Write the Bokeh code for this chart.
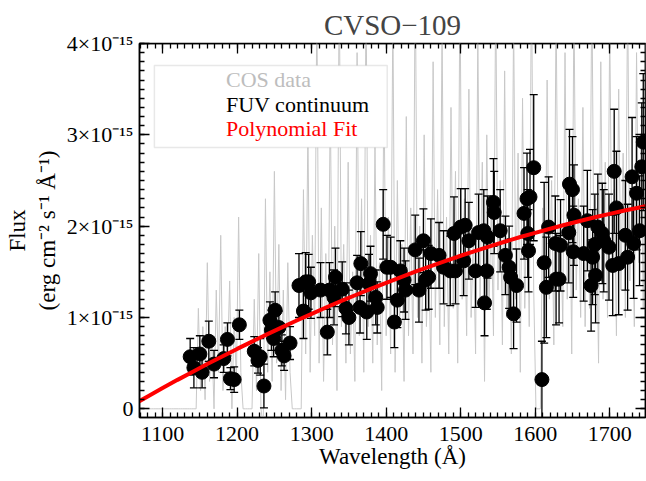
from bokeh.plotting import figure
from bokeh.models import Range1d, FixedTicker, LinearAxis, Legend, LegendItem, BoxAnnotation
from bokeh.embed import file_html
from bokeh.resources import INLINE

FONT = "Liberation Serif"

# ---------------- data (flux in units of 1e-15 erg cm^-2 s^-1 A^-1) ----------------
cos_start = 1070.0
cos_step = 3.0
cos_flux = [
    0.0, 0.0, 0.0, 0.0, 0.0, 0.0, 0.0, 0.0, 0.0, 0.0, 0.0, 0.0, 0.0,
    0.0, 0.0, 0.0, 0.0, 0.0, 0.0, 0.0, 0.0, 0.0, 0.0, 0.0, 0.0, 0.0,
    1.1, 0.2, 0.9, 0.1, 1.6, 0.3, 0.8, 0.0, 1.3, 0.4, 1.9, 0.2, 0.9, 0.5, 1.4, 0.0, 1.0, 0.3, 2.1, 0.4,
    0.0, 0.0, 0.0, 0.0, 0.0,
    1.2, 0.2, 1.7, 0.0, -0.2, 2.3, 0.4, 1.5, 0.3, 2.6, 0.5, 1.8, 0.2, 1.3, 0.1, 1.6, 0.4,
    0.0, 0.0, 0.0, 0.0, 0.0,
    2.4, 0.6, 3.1, 0.4, 1.9, 0.8, 4.5, 0.5, 2.2, 0.3, 1.7, 0.6, 3.4, 0.7, 2.0, 0.2, 4.8, 0.9,
    1.8, 0.5, 2.7, 0.6, 1.5, 0.3, 3.9, 0.8, 2.3, 0.4, 4.6, 0.9, 1.9, 0.5, 2.9, 0.7, 1.6, 0.2,
    3.6, 0.8, 2.1, 0.6, 4.4, 0.4, 2.5, 0.9, 1.8, 0.3, 3.2, 0.8, 2.2, 0.6, 4.9, 1.0, 2.0, 0.5,
    3.0, 0.9, 1.7, 0.4, 3.8, 1.0, 2.4, 0.7, 4.2, 0.9, 2.1, 0.6, 3.3, 1.1, 2.6, 0.5, 4.7, 1.2,
    2.3, 0.8, 3.5, 1.0, 1.9, 0.6, 4.1, 1.2, 2.7, 0.3, 3.0, 1.1, 2.2, 0.8, 4.6, 1.3, 2.5, 0.7,
    3.7, 1.0, 2.0, 0.6, 4.3, 1.2, 2.8, 0.4, 3.4, 1.1, 2.4, 0.9, 4.8, 1.3,
    0.0, 0.0, 0.0,
    2.2, 0.8, 3.6, 1.2, 2.5, 0.7, 4.4, 1.4, 2.1, 0.9, 3.9, 1.2, 2.9, 0.6, 4.5, 1.3, 2.3, 1.0,
    3.3, 0.9, 2.6, 1.1, 4.7, 1.4, 2.2, 0.5, 3.8, 1.2, 2.7, 1.0, 4.2, 1.5, 2.4, 0.8, 3.5, 1.3,
    2.8, 1.0, 4.6, 1.4, 2.3, 0.9, 3.9, 1.6, 2.9, 1.1, 4.3, 1.5,
]
cos_wave = [cos_start + cos_step * i for i in range(len(cos_flux))]

fuv_wave = [
    1137, 1142, 1150, 1153, 1162, 1169, 1182, 1187, 1191, 1196, 1203,
    1223, 1228, 1231, 1236, 1244, 1246, 1249, 1251, 1256, 1260, 1263, 1271,
    1283, 1289, 1292, 1296, 1299, 1312, 1321, 1324, 1330, 1332, 1341, 1346, 1350,
    1361, 1365, 1366, 1374, 1377, 1379, 1386, 1388, 1396, 1401, 1406, 1411, 1415,
    1419, 1424, 1426, 1439, 1444, 1450, 1453, 1457, 1460, 1471, 1477, 1486, 1491,
    1493, 1500, 1504, 1506, 1511, 1520, 1524, 1531, 1532, 1535, 1536, 1544, 1545,
    1553, 1560, 1565, 1567, 1571, 1575, 1585, 1589, 1590, 1591, 1593, 1598,
    1609, 1612, 1615, 1618, 1627, 1628, 1632, 1634, 1645, 1646, 1650, 1651, 1652,
    1665, 1670, 1675, 1677, 1680, 1681, 1684, 1690, 1692, 1699, 1704, 1706, 1709,
    1712, 1721, 1724, 1730, 1732, 1736, 1740, 1743, 1745,
]
fuv_flux = [
    0.57, 0.45, 0.60, 0.40, 0.74, 0.49, 0.55, 0.76, 0.33, 0.32, 0.92,
    0.63, 0.53, 0.57, 0.25, 0.97, 0.86, 0.77, 1.08, 0.89, 0.64, 0.58, 0.72,
    1.35, 1.07, 1.39, 1.39, 1.27, 1.30, 0.84, 1.30, 1.22, 1.44, 1.31, 1.10, 1.00,
    1.38, 1.11, 1.59, 1.06, 1.37, 1.48, 1.22, 1.11, 2.02, 1.55, 1.55, 0.95, 1.19,
    1.51, 1.41, 1.30, 1.74, 1.30, 1.84, 1.41, 1.44, 1.70, 1.68, 1.55, 1.51, 1.92,
    1.51, 1.99, 1.62, 2.01, 1.84, 1.51, 1.93, 1.95, 1.16, 1.51, 1.88, 2.26, 2.15,
    1.95, 1.68, 1.55, 1.44, 1.04, 1.35, 2.14, 2.30, 1.92, 1.73, 2.32, 2.64,
    0.32, 1.60, 1.33, 1.99, 1.81, 1.42, 1.42, 1.79, 1.93, 2.46, 2.40, 1.72, 2.12,
    1.70, 2.06, 1.35, 1.66, 1.80, 1.46, 1.99, 1.92, 1.84, 1.77, 1.57, 2.60, 2.20,
    1.59, 1.90, 1.66, 2.54, 1.81, 2.36, 1.95, 2.65, 2.92,
]
fuv_err = [
    0.20, 0.22, 0.20, 0.17, 0.22, 0.15, 0.15, 0.18, 0.12, 0.14, 0.16,
    0.16, 0.14, 0.20, 0.24, 0.20, 0.22, 0.20, 0.20, 0.18, 0.17, 0.16, 0.18,
    0.35, 0.30, 0.32, 0.30, 0.28, 0.30, 0.25, 0.30, 0.30, 0.32, 0.30, 0.28, 0.30,
    0.30, 0.28, 0.35, 0.30, 0.32, 0.30, 0.30, 0.28, 0.38, 0.35, 0.33, 0.28, 0.30,
    0.33, 0.35, 0.32, 0.38, 0.35, 0.35, 0.33, 0.35, 0.38, 0.36, 0.40, 0.38, 0.40,
    0.36, 0.42, 0.38, 0.40, 0.42, 0.40, 0.42, 0.45, 0.36, 0.42, 0.45, 0.48, 0.45,
    0.45, 0.43, 0.45, 0.42, 0.38, 0.40, 0.50, 0.50, 0.48, 0.45, 0.52, 0.80,
    0.42, 0.88, 0.55, 0.55, 0.52, 0.50, 0.48, 0.50, 0.55, 0.60, 0.58, 0.50, 0.55,
    0.52, 0.55, 0.50, 0.52, 0.55, 0.52, 0.58, 0.55, 0.56, 0.58, 0.55, 0.68, 0.62,
    0.56, 0.60, 0.58, 0.65, 0.60, 0.62, 0.60, 0.70, 0.75,
]

fit_wave = [1060, 1080, 1100, 1120, 1140, 1160, 1180, 1200, 1220, 1240, 1260, 1280,
            1300, 1320, 1340, 1360, 1380, 1400, 1420, 1440, 1460, 1480, 1500, 1520,
            1540, 1560, 1580, 1600, 1620, 1640, 1660, 1680, 1700, 1720, 1740, 1760]
fit_flux = [0.043, 0.136, 0.227, 0.317, 0.404, 0.490, 0.573, 0.656, 0.736, 0.815, 0.892, 0.967,
            1.040, 1.112, 1.181, 1.249, 1.316, 1.380, 1.443, 1.504, 1.563, 1.620, 1.676, 1.730,
            1.782, 1.832, 1.881, 1.927, 1.972, 2.016, 2.057, 2.097, 2.135, 2.171, 2.205, 2.238]

x_ticks = [1100, 1200, 1300, 1400, 1500, 1600, 1700]
x_tick_labels = ["1100", "1200", "1300", "1400", "1500", "1600", "1700"]
y_ticks = [0, 1, 2, 3, 4]
y_tick_labels = ["0", "1×10⁻¹⁵", "2×10⁻¹⁵", "3×10⁻¹⁵", "4×10⁻¹⁵"]

X_MIN, X_MAX = 1069, 1748
Y_MIN, Y_MAX = -0.095, 4.0

# ---------------- figure ----------------
p = figure(width=646, height=481, output_backend="svg", toolbar_location=None,
           x_range=Range1d(X_MIN, X_MAX), y_range=Range1d(Y_MIN, Y_MAX),
           title="CVSO−109",
           x_axis_label="Wavelength (Å)",
           y_axis_label="Flux\n(erg cm⁻² s⁻¹ Å⁻¹)",
           min_border_left=139, min_border_right=1, min_border_top=43, min_border_bottom=64)
p.xgrid.visible = False
p.ygrid.visible = False
p.outline_line_color = "black"
p.outline_line_width = 1.5
p.background_fill_color = "white"
p.border_fill_color = "white"

p.title.align = "center"
p.title.text_font = FONT
p.title.text_font_size = "29px"
p.title.text_font_style = "normal"
p.title.standoff = 5

x_ticker = FixedTicker(ticks=x_ticks, minor_ticks=list(range(1070, 1750, 10)))
y_ticker = FixedTicker(ticks=y_ticks, minor_ticks=[i / 10 for i in range(0, 41)])


def style(ax):
    ax.axis_line_width = 1.5
    ax.axis_line_color = "black"
    ax.major_tick_in = 10
    ax.major_tick_out = 0
    ax.minor_tick_in = 5
    ax.minor_tick_out = 0
    ax.major_tick_line_width = 1.3
    ax.minor_tick_line_width = 1.3
    ax.major_tick_line_color = "black"
    ax.minor_tick_line_color = "black"
    ax.major_label_text_font = FONT
    ax.major_label_text_font_size = "22px"
    ax.major_label_text_color = "black"
    ax.axis_label_text_font = FONT
    ax.axis_label_text_font_size = "23px"
    ax.axis_label_text_font_style = "normal"
    ax.axis_label_text_color = "black"


xa = p.xaxis[0]
ya = p.yaxis[0]
xa.ticker = x_ticker
ya.ticker = y_ticker
style(xa)
style(ya)
xa.major_label_overrides = dict(zip(x_ticks, x_tick_labels))
ya.major_label_overrides = dict(zip(y_ticks, y_tick_labels))
xa.major_label_standoff = 9
xa.axis_label_standoff = 0
ya.major_label_standoff = 6
ya.axis_label_standoff = 4

top = LinearAxis(ticker=x_ticker, fixed_location=Y_MAX)
right = LinearAxis(ticker=y_ticker, fixed_location=X_MAX)
for ax in (top, right):
    style(ax)
    ax.major_label_text_font_size = "0px"
    ax.major_label_standoff = 0
top.major_label_overrides = {t: "" for t in x_ticks}
right.major_label_overrides = {t: "" for t in y_ticks}
p.add_layout(top, "above")
p.add_layout(right, "right")

# ---------------- glyphs ----------------
p.line(cos_wave, cos_flux, color="#c8c8c8", line_width=1)

low = [f - e for f, e in zip(fuv_flux, fuv_err)]
high = [f + e for f, e in zip(fuv_flux, fuv_err)]
p.segment(x0=fuv_wave, y0=low, x1=fuv_wave, y1=high, color="black", line_width=1.3)
p.scatter(fuv_wave, high, marker="dash", size=8, color="black", line_width=1.3)
p.scatter(fuv_wave, low, marker="dash", size=8, color="black", line_width=1.3)
p.scatter(fuv_wave, fuv_flux, size=14, color="black")

p.line(fit_wave, fit_flux, color="red", line_width=4)

# legend-only renderers (no data)
leg_cos = p.line([], [], color="#bdbdbd", line_width=2)
leg_dot = p.scatter([], [], size=12, color="black")
leg_fit = p.line([], [], color="red", line_width=2.5)

box = BoxAnnotation(left=1089, right=1401.4, bottom=2.862, top=3.760,
                    fill_color="white", fill_alpha=1.0,
                    line_color="#b4b4b4", line_width=1.5)
p.add_layout(box)

for label, rend, color, ybot in [("COS data", leg_cos, "#bdbdbd", 323.8),
                                 ("FUV continuum", leg_dot, "black", 299.3),
                                 ("Polynomial Fit", leg_fit, "red", 274.8)]:
    leg = Legend(items=[LegendItem(label=label, renderers=[rend])],
                 location=(38, ybot), padding=0, margin=0, spacing=0,
                 border_line_alpha=0, background_fill_alpha=0,
                 label_text_color=color, label_text_font=FONT,
                 label_text_font_size="22px",
                 glyph_width=35, glyph_height=24, label_height=24,
                 label_standoff=14)
    p.add_layout(leg)

open("out.html", "w").write(file_html(p, INLINE))
